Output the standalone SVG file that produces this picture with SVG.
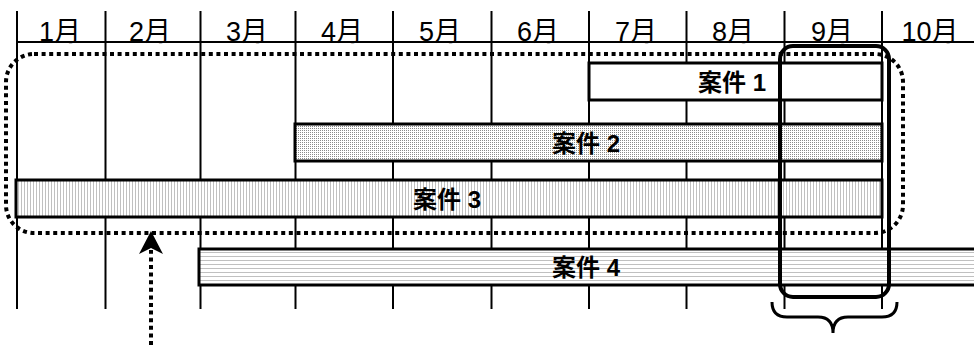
<svg xmlns="http://www.w3.org/2000/svg" width="974" height="345" viewBox="0 0 974 345">
<defs>
<style>
.grid{stroke:#000;stroke-width:2;fill:none}
.mon{font-family:"Liberation Sans","Noto Sans CJK JP",sans-serif;font-size:27px;fill:#000;text-anchor:middle}
.bar{stroke:#000;stroke-width:3}
.lbl{font-family:"Liberation Sans","Noto Sans CJK JP",sans-serif;font-weight:bold;font-size:24px;fill:#000;text-anchor:middle}
.dot{fill:none;stroke:#000;stroke-width:4;stroke-dasharray:4 3.6}
</style>
<pattern id="pDots" width="2" height="2" patternUnits="userSpaceOnUse">
<rect width="2" height="2" fill="#fff"/><rect width="1" height="1" fill="#8a8a8a"/>
</pattern>
<pattern id="pVert" width="3" height="3" patternUnits="userSpaceOnUse">
<rect width="3" height="3" fill="#fff"/><rect width="1" height="3" fill="#c0c0c0"/>
</pattern>
<pattern id="pHorz" width="4" height="4" patternUnits="userSpaceOnUse">
<rect width="4" height="4" fill="#fff"/><rect width="4" height="1" fill="#c0c0c0"/>
</pattern>
</defs>
<g id="grid">
<line class="grid" x1="17" y1="42" x2="974" y2="42"/>
<line class="grid" x1="17" y1="11" x2="17" y2="309"/>
<line class="grid" x1="105.5" y1="11" x2="105.5" y2="309"/>
<line class="grid" x1="200.5" y1="11" x2="200.5" y2="309"/>
<line class="grid" x1="295.5" y1="11" x2="295.5" y2="309"/>
<line class="grid" x1="393" y1="11" x2="393" y2="309"/>
<line class="grid" x1="491.5" y1="11" x2="491.5" y2="309"/>
<line class="grid" x1="589" y1="11" x2="589" y2="309"/>
<line class="grid" x1="686.5" y1="11" x2="686.5" y2="309"/>
<line class="grid" x1="784.5" y1="11" x2="784.5" y2="309"/>
<line class="grid" x1="882" y1="11" x2="882" y2="309"/>
<text class="mon" x="60" y="40.5">1月</text>
<text class="mon" x="150" y="40.5">2月</text>
<text class="mon" x="247" y="40.5">3月</text>
<text class="mon" x="342" y="40.5">4月</text>
<text class="mon" x="440" y="40.5">5月</text>
<text class="mon" x="538" y="40.5">6月</text>
<text class="mon" x="636" y="40.5">7月</text>
<text class="mon" x="733" y="40.5">8月</text>
<text class="mon" x="832" y="40.5">9月</text>
<text class="mon" x="930" y="40.5">10月</text>
</g>
<g id="task1">
<rect class="bar" x="589" y="63" width="293" height="37" fill="#fff"/>
<text class="lbl" x="732" y="91">案件 1</text>
</g>
<g id="task2">
<rect class="bar" x="295" y="124" width="587" height="37" fill="url(#pDots)"/>
<text class="lbl" x="586" y="152">案件 2</text>
</g>
<g id="task3">
<rect class="bar" x="16" y="180" width="866" height="37" fill="url(#pVert)"/>
<text class="lbl" x="447" y="208">案件 3</text>
</g>
<g id="task4">
<rect class="bar" x="199" y="249" width="790" height="36" fill="url(#pHorz)"/>
<text class="lbl" x="586" y="276">案件 4</text>
</g>
<g id="group-outline">
<rect class="dot" x="6" y="54" width="897" height="179" rx="28" ry="28"/>
</g>
<g id="september-highlight">
<rect x="780" y="46" width="109" height="251" rx="13" ry="13" fill="none" stroke="#000" stroke-width="4"/>
</g>
<g id="connectors">
<path d="M772 302 Q772 317 787 317 L818 317 Q833 317 833 333 Q833 317 848 317 L882 317 Q897 317 897 302" fill="none" stroke="#000" stroke-width="3"/>
<line class="dot" x1="151" y1="345" x2="151" y2="250"/>
<path d="M151 231 L163 254 L151 248 L139 254 Z" fill="#000"/>
</g>
</svg>
